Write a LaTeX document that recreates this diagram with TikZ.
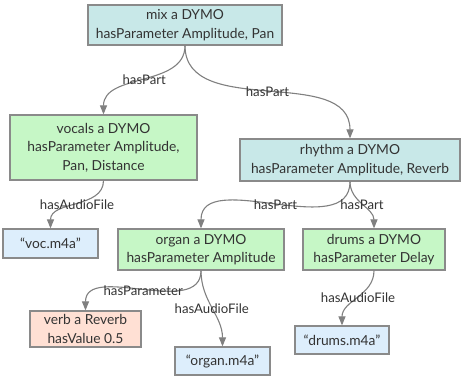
\documentclass[tikz,border=0pt]{standalone}
\usepackage{fontspec}
\setmainfont{Lato}
\usetikzlibrary{arrows.meta}
\definecolor{teal1}{HTML}{C8E8E8}
\definecolor{green1}{HTML}{C6F7C6}
\definecolor{blue1}{HTML}{DDEEFC}
\definecolor{peach1}{HTML}{FFE0D4}
\definecolor{bord}{HTML}{8A8A8A}
\definecolor{txt}{HTML}{333333}
\definecolor{edge}{HTML}{808080}
\tikzset{
  box/.style={draw=bord, line width=1.2pt, text=txt, align=center, inner sep=0pt,
    font=\fontsize{13.8}{18.5}\selectfont},
  tealbox/.style={box, fill=teal1},
  greenbox/.style={box, fill=green1},
  bluebox/.style={box, fill=blue1},
  peachbox/.style={box, fill=peach1},
  conn/.style={draw=edge, line width=1.1pt, -{Triangle[length=9pt,width=7pt]}},
  lbl/.style={text=txt, font=\fontsize{13.2}{15}\selectfont, inner sep=0pt}
}
\begin{document}
\begin{tikzpicture}[x=1pt,y=-1pt]
\useasboundingbox (0,0) rectangle (461,381);
\node[tealbox, minimum width=194pt, minimum height=40pt] (mix) at (185,25) {mix a DYMO\\hasParameter Amplitude, Pan};
\node[greenbox, minimum width=187pt, minimum height=65pt] (vocals) at (103.5,147.5) {vocals a DYMO\\hasParameter Amplitude,\\Pan, Distance};
\node[tealbox, minimum width=220pt, minimum height=42pt] (rhythm) at (350,160) {rhythm a DYMO\\hasParameter Amplitude, Reverb};
\node[bluebox, minimum width=95pt, minimum height=29pt] (voc) at (50.5,243.5) {“voc.m4a”};
\node[greenbox, minimum width=166pt, minimum height=41pt] (organ) at (201,249.5) {organ a DYMO\\hasParameter Amplitude};
\node[greenbox, minimum width=142pt, minimum height=41pt] (drums) at (374,249.5) {drums a DYMO\\hasParameter Delay};
\node[peachbox, minimum width=111pt, minimum height=36pt] (verb) at (85.5,329) {verb a Reverb\\hasValue 0.5};
\node[bluebox, minimum width=95pt, minimum height=28pt] (organf) at (222.5,361) {“organ.m4a”};
\node[bluebox, minimum width=94pt, minimum height=28pt] (drumsf) at (342,340) {“drums.m4a”};

\draw[conn] (mix.south) to[out=-90,in=90] node[lbl]{hasPart} (vocals.north);
\draw[conn] (mix.south) to[out=-90,in=90] node[lbl]{hasPart} (rhythm.north);
\draw[conn] (vocals.south) to[out=-90,in=90] node[lbl]{hasAudioFile} (voc.north);
\draw[conn] (rhythm.south) to[out=-90,in=90] node[lbl]{hasPart} (organ.north);
\draw[conn] (rhythm.south) to[out=-90,in=90] node[lbl]{hasPart} (drums.north);
\draw[conn] (organ.south) to[out=-90,in=90] node[lbl]{hasParameter} (verb.north);
\draw[conn] (organ.south) to[out=-90,in=90] node[lbl]{hasAudioFile} (organf.north);
\draw[conn] (drums.south) to[out=-90,in=90] node[lbl]{hasAudioFile} (drumsf.north);
\end{tikzpicture}
\end{document}
